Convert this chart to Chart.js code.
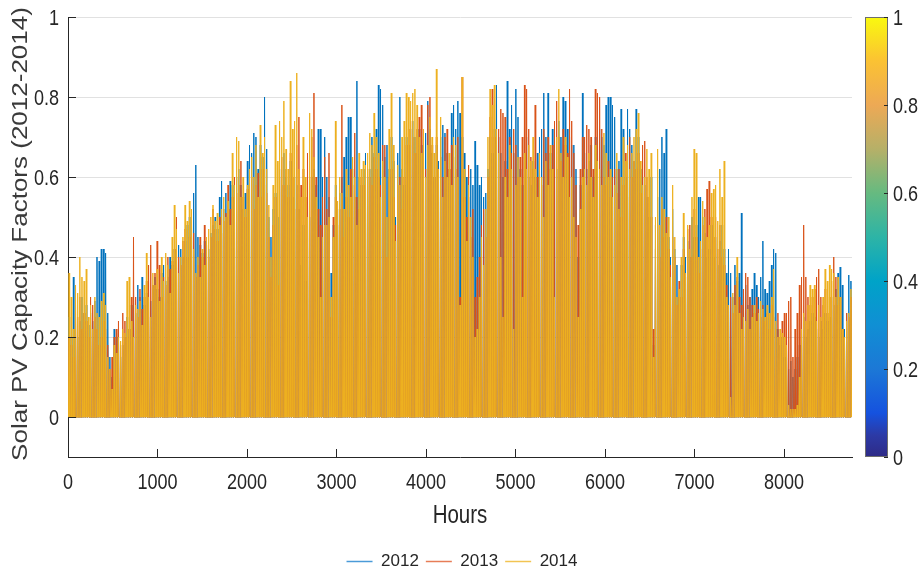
<!DOCTYPE html>
<html>
<head>
<meta charset="utf-8">
<script src="https://cdn.jsdelivr.net/npm/chart.js@4.4.1/dist/chart.umd.min.js"></script>
<style>
  html, body { margin: 0; padding: 0; background: #fff; }
  #wrap { width: 924px; height: 572px; }
</style>
</head>
<body>
<div id="wrap"><canvas id="pvChart" width="924" height="572"></canvas></div>
<script>
// daily peak capacity factor, one value per day of the year
const years = ['2012', '2013', '2014'];

const peak2012 = [
  0.25, 0.20, 0.35, 0.25, 0.20, 0.24, 0.30, 0.26, 0.28, 0.23,
  0.26, 0.24, 0.29, 0.40, 0.39, 0.42, 0.42, 0.41, 0.26, 0.15,
  0.10, 0.22, 0.20, 0.21, 0.15, 0.18, 0.20, 0.25, 0.22, 0.28,
  0.30, 0.26, 0.33, 0.30, 0.35, 0.28, 0.31, 0.25, 0.29, 0.33,
  0.35, 0.32, 0.30, 0.36, 0.38, 0.34, 0.35, 0.40, 0.38, 0.42,
  0.44, 0.43, 0.42, 0.40, 0.44, 0.48, 0.50, 0.51, 0.56, 0.63,
  0.45, 0.43, 0.41, 0.44, 0.40, 0.42, 0.46, 0.48, 0.50, 0.47,
  0.55, 0.59, 0.52, 0.56, 0.50, 0.59, 0.58, 0.55, 0.60, 0.62,
  0.58, 0.52, 0.56, 0.64, 0.68, 0.66, 0.71, 0.70, 0.62, 0.68,
  0.65, 0.80, 0.67, 0.50, 0.45, 0.52, 0.56, 0.50, 0.62, 0.58,
  0.66, 0.60, 0.58, 0.64, 0.55, 0.60, 0.58, 0.52, 0.38, 0.48,
  0.34, 0.55, 0.50, 0.60, 0.62, 0.58, 0.72, 0.72, 0.60, 0.70,
  0.60, 0.55, 0.36, 0.48, 0.58, 0.52, 0.56, 0.60, 0.65, 0.70,
  0.75, 0.75, 0.62, 0.55, 0.84, 0.60, 0.58, 0.62, 0.66, 0.60,
  0.62, 0.70, 0.66, 0.72, 0.83, 0.82, 0.78, 0.65, 0.68, 0.62,
  0.70, 0.64, 0.50, 0.66, 0.80, 0.62, 0.58, 0.70, 0.68, 0.72,
  0.74, 0.70, 0.66, 0.72, 0.68, 0.64, 0.71, 0.79, 0.72, 0.66,
  0.60, 0.68, 0.64, 0.70, 0.73, 0.71, 0.66, 0.62, 0.76, 0.78,
  0.72, 0.79, 0.76, 0.70, 0.66, 0.60, 0.55, 0.62, 0.58, 0.69,
  0.63, 0.58, 0.60, 0.55, 0.56, 0.62, 0.70, 0.66, 0.72, 0.83,
  0.70, 0.66, 0.60, 0.64, 0.84, 0.72, 0.78, 0.66, 0.82, 0.75,
  0.62, 0.58, 0.66, 0.70, 0.60, 0.58, 0.64, 0.60, 0.66, 0.70,
  0.72, 0.81, 0.70, 0.81, 0.66, 0.72, 0.68, 0.62, 0.74, 0.70,
  0.80, 0.79, 0.72, 0.70, 0.68, 0.68, 0.62, 0.40, 0.58, 0.81,
  0.66, 0.62, 0.64, 0.68, 0.60, 0.70, 0.66, 0.72, 0.70, 0.68,
  0.78, 0.80, 0.80, 0.78, 0.75, 0.62, 0.64, 0.77, 0.72, 0.60,
  0.77, 0.72, 0.68, 0.64, 0.77, 0.70, 0.62, 0.60, 0.58, 0.55,
  0.50, 0.60, 0.18, 0.48, 0.55, 0.62, 0.70, 0.66, 0.72, 0.45,
  0.40, 0.52, 0.42, 0.38, 0.30, 0.38, 0.45, 0.40, 0.44, 0.40,
  0.50, 0.45, 0.48, 0.55, 0.55, 0.50, 0.46, 0.40, 0.42, 0.48,
  0.40, 0.45, 0.38, 0.44, 0.48, 0.42, 0.36, 0.42, 0.36, 0.30,
  0.38, 0.34, 0.36, 0.51, 0.30, 0.33, 0.28, 0.30, 0.32, 0.36,
  0.33, 0.30, 0.35, 0.44, 0.32, 0.31, 0.34, 0.38, 0.42, 0.41,
  0.22, 0.18, 0.20, 0.15, 0.18, 0.12, 0.14, 0.10, 0.12, 0.15,
  0.18, 0.22, 0.25, 0.20, 0.22, 0.24, 0.26, 0.25, 0.22, 0.20,
  0.24, 0.22, 0.26, 0.24, 0.25, 0.30, 0.28, 0.32, 0.36, 0.375,
  0.33, 0.22, 0.26, 0.355, 0.34
];

const peak2013 = [
  0.20, 0.18, 0.15, 0.28, 0.25, 0.30, 0.22, 0.26, 0.24, 0.20,
  0.30, 0.28, 0.25, 0.22, 0.18, 0.20, 0.24, 0.22, 0.18, 0.12,
  0.15, 0.20, 0.22, 0.24, 0.18, 0.26, 0.24, 0.20, 0.22, 0.30,
  0.45, 0.30, 0.25, 0.32, 0.27, 0.30, 0.34, 0.38, 0.43, 0.33,
  0.36, 0.44, 0.38, 0.30, 0.35, 0.33, 0.40, 0.37, 0.39, 0.42,
  0.50, 0.40, 0.38, 0.44, 0.47, 0.40, 0.45, 0.50, 0.46, 0.35,
  0.38, 0.45, 0.40, 0.48, 0.43, 0.40, 0.45, 0.52, 0.47, 0.44,
  0.50, 0.46, 0.49, 0.51, 0.58, 0.52, 0.55, 0.60, 0.56, 0.58,
  0.64, 0.55, 0.50, 0.57, 0.48, 0.60, 0.52, 0.58, 0.61, 0.55,
  0.62, 0.58, 0.56, 0.45, 0.35, 0.48, 0.55, 0.33, 0.60, 0.65,
  0.58, 0.62, 0.55, 0.66, 0.60, 0.52, 0.68, 0.75, 0.58, 0.62,
  0.55, 0.66, 0.60, 0.70, 0.81, 0.60, 0.52, 0.48, 0.55, 0.65,
  0.52, 0.66, 0.25, 0.50, 0.55, 0.48, 0.52, 0.78, 0.45, 0.55,
  0.50, 0.62, 0.58, 0.71, 0.55, 0.52, 0.60, 0.58, 0.55, 0.62,
  0.60, 0.58, 0.65, 0.62, 0.60, 0.58, 0.68, 0.68, 0.40, 0.60,
  0.62, 0.55, 0.48, 0.58, 0.60, 0.52, 0.60, 0.68, 0.72, 0.74,
  0.70, 0.66, 0.72, 0.75, 0.78, 0.70, 0.62, 0.78, 0.80, 0.68,
  0.60, 0.70, 0.55, 0.65, 0.60, 0.70, 0.72, 0.62, 0.68, 0.65,
  0.62, 0.70, 0.30, 0.85, 0.55, 0.50, 0.63, 0.45, 0.52, 0.30,
  0.35, 0.40, 0.48, 0.52, 0.45, 0.60, 0.75, 0.82, 0.70, 0.68,
  0.72, 0.77, 0.76, 0.75, 0.62, 0.70, 0.66, 0.72, 0.68, 0.60,
  0.65, 0.70, 0.83, 0.82, 0.72, 0.65, 0.62, 0.78, 0.60, 0.64,
  0.58, 0.72, 0.66, 0.70, 0.62, 0.68, 0.74, 0.79, 0.70, 0.64,
  0.72, 0.68, 0.66, 0.82, 0.74, 0.66, 0.58, 0.48, 0.62, 0.70,
  0.70, 0.73, 0.72, 0.70, 0.62, 0.82, 0.81, 0.80, 0.72, 0.60,
  0.58, 0.64, 0.55, 0.60, 0.62, 0.56, 0.62, 0.50, 0.58, 0.66,
  0.55, 0.70, 0.60, 0.64, 0.62, 0.66, 0.56, 0.68, 0.69, 0.60,
  0.55, 0.50, 0.22, 0.42, 0.48, 0.40, 0.52, 0.45, 0.50, 0.42,
  0.38, 0.45, 0.40, 0.28, 0.34, 0.30, 0.42, 0.35, 0.47, 0.48,
  0.40, 0.52, 0.45, 0.36, 0.42, 0.48, 0.52, 0.57, 0.59, 0.50,
  0.45, 0.50, 0.42, 0.48, 0.40, 0.38, 0.33, 0.28, 0.30, 0.26,
  0.33, 0.35, 0.30, 0.28, 0.32, 0.36, 0.35, 0.30, 0.28, 0.26,
  0.30, 0.27, 0.25, 0.28, 0.24, 0.26, 0.22, 0.28, 0.25, 0.22,
  0.26, 0.20, 0.24, 0.26, 0.26, 0.29, 0.30, 0.15, 0.22, 0.26,
  0.33, 0.35, 0.48, 0.35, 0.30, 0.28, 0.30, 0.32, 0.35, 0.37,
  0.30, 0.28, 0.32, 0.26, 0.30, 0.34, 0.40, 0.35, 0.28, 0.30,
  0.22, 0.20, 0.26, 0.25, 0.30
];

const peak2014 = [
  0.36, 0.30, 0.22, 0.33, 0.31, 0.40, 0.35, 0.34, 0.37, 0.25,
  0.28, 0.22, 0.30, 0.26, 0.25, 0.29, 0.31, 0.28, 0.15, 0.12,
  0.07, 0.18, 0.16, 0.20, 0.19, 0.22, 0.21, 0.34, 0.35, 0.24,
  0.20, 0.28, 0.27, 0.29, 0.23, 0.33, 0.41, 0.30, 0.25, 0.36,
  0.33, 0.37, 0.29, 0.40, 0.34, 0.41, 0.38, 0.31, 0.45, 0.53,
  0.47, 0.36, 0.40, 0.45, 0.53, 0.49, 0.54, 0.52, 0.42, 0.36,
  0.40, 0.35, 0.42, 0.38, 0.45, 0.47, 0.50, 0.53, 0.49, 0.51,
  0.48, 0.52, 0.55, 0.50, 0.54, 0.48, 0.66, 0.58, 0.70, 0.69,
  0.55, 0.60, 0.52, 0.58, 0.62, 0.65, 0.60, 0.68, 0.55, 0.73,
  0.66, 0.70, 0.62, 0.53, 0.40, 0.58, 0.73, 0.64, 0.74, 0.70,
  0.79, 0.67, 0.62, 0.84, 0.72, 0.74, 0.86, 0.62, 0.55, 0.70,
  0.60, 0.50, 0.76, 0.72, 0.65, 0.55, 0.45, 0.30, 0.45, 0.48,
  0.48, 0.50, 0.30, 0.45, 0.74, 0.54, 0.60, 0.56, 0.52, 0.62,
  0.58, 0.55, 0.65, 0.60, 0.48, 0.66, 0.62, 0.64, 0.63, 0.66,
  0.71, 0.68, 0.76, 0.70, 0.66, 0.55, 0.64, 0.60, 0.50, 0.72,
  0.81, 0.68, 0.44, 0.63, 0.58, 0.70, 0.74, 0.81, 0.80, 0.79,
  0.81, 0.82, 0.78, 0.70, 0.66, 0.72, 0.60, 0.68, 0.75, 0.70,
  0.66, 0.87, 0.62, 0.75, 0.55, 0.64, 0.60, 0.66, 0.58, 0.70,
  0.68, 0.60, 0.28, 0.85, 0.62, 0.44, 0.58, 0.50, 0.40, 0.20,
  0.22, 0.30, 0.45, 0.38, 0.52, 0.70, 0.82, 0.78, 0.83, 0.72,
  0.66, 0.40, 0.25, 0.60, 0.55, 0.68, 0.62, 0.22, 0.58, 0.65,
  0.60, 0.30, 0.66, 0.62, 0.68, 0.64, 0.70, 0.62, 0.55, 0.66,
  0.60, 0.50, 0.64, 0.58, 0.68, 0.62, 0.30, 0.70, 0.82, 0.66,
  0.60, 0.70, 0.65, 0.55, 0.60, 0.50, 0.45, 0.25, 0.52, 0.60,
  0.62, 0.58, 0.66, 0.60, 0.55, 0.68, 0.64, 0.62, 0.58, 0.71,
  0.66, 0.60, 0.62, 0.55, 0.58, 0.66, 0.52, 0.60, 0.70, 0.64,
  0.68, 0.62, 0.66, 0.70, 0.72, 0.76, 0.64, 0.58, 0.60, 0.67,
  0.62, 0.66, 0.15, 0.50, 0.67, 0.48, 0.55, 0.52, 0.46, 0.50,
  0.35, 0.58, 0.45, 0.30, 0.32, 0.40, 0.51, 0.36, 0.48, 0.42,
  0.55, 0.67, 0.66, 0.40, 0.44, 0.54, 0.50, 0.45, 0.48, 0.56,
  0.57, 0.58, 0.49, 0.62, 0.55, 0.64, 0.30, 0.28, 0.05, 0.31,
  0.28, 0.40, 0.26, 0.22, 0.25, 0.24, 0.27, 0.22, 0.25, 0.28,
  0.24, 0.26, 0.29, 0.27, 0.25, 0.28, 0.26, 0.30, 0.37, 0.24,
  0.20, 0.22, 0.21, 0.20, 0.18, 0.03, 0.02, 0.02, 0.02, 0.03,
  0.10, 0.22, 0.26, 0.24, 0.28, 0.33, 0.32, 0.33, 0.24, 0.28,
  0.25, 0.30, 0.37, 0.34, 0.38, 0.37, 0.36, 0.30, 0.35, 0.30,
  0.22, 0.20, 0.24, 0.26, 0.32
];

const xTicks = [0, 1000, 2000, 3000, 4000, 5000, 6000, 7000, 8000];
const yTicks = [0, 0.2, 0.4, 0.6, 0.8, 1];
const cbTicks = [0, 0.2, 0.4, 0.6, 0.8, 1];

const lineColors = ['#0072BD', '#D95319', '#EDB120'];
const legendColors = ['#4A9BD8', '#E77D57', '#F2C452'];

// parula-like colour stops for the colour bar
const parula = [
  [0.00, '#2E2A86'], [0.05, '#2C3AA6'], [0.10, '#1552DF'], [0.20, '#1C78D6'],
  [0.30, '#108FD4'], [0.40, '#00A3C8'], [0.50, '#2DB4A6'], [0.60, '#66BA80'],
  [0.70, '#B6B068'], [0.80, '#EDA955'], [0.90, '#FBC233'], [1.00, '#F9F90F']
];

const FONT = "'Liberation Sans', Arial, sans-serif";
const AXIS_COLOR = '#262626';
const SQUEEZE = 0.82;   // the original figure's text is horizontally condensed

// each day becomes a spike: zero at night, peak at midday
function daySpikes(peaks) {
    let pts = [];
    peaks.forEach(function (p, d) {
        let h = d * 24;
        pts.push({ x: h + 6, y: 0 }, { x: h + 12, y: p }, { x: h + 18, y: 0 });
    });
    return pts;
}

function narrowText(ctx, text, x, y, align, size, color) {
    ctx.save();
    ctx.translate(x, y);
    ctx.scale(SQUEEZE, 1);
    ctx.font = size + 'px ' + FONT;
    ctx.fillStyle = color;
    ctx.textAlign = align;
    ctx.textBaseline = 'middle';
    ctx.fillText(text, 0, 0);
    ctx.restore();
}

// inward tick marks, tick labels, axis titles and the colour bar
const extrasPlugin = {
    id: 'extras',
    afterDraw(chart) {
        const { ctx, chartArea } = chart;
        const xs = chart.scales.x, ys = chart.scales.y, cb = chart.scales.cb;
        ctx.save();
        ctx.strokeStyle = AXIS_COLOR;
        ctx.lineWidth = 1;
        ctx.beginPath();
        yTicks.forEach(function (v) {
            let y = Math.round(ys.getPixelForValue(v)) + 0.5;
            ctx.moveTo(chartArea.left, y);
            ctx.lineTo(chartArea.left + 8, y);
        });
        xTicks.forEach(function (v) {
            let x = Math.round(xs.getPixelForValue(v)) + 0.5;
            ctx.moveTo(x, chartArea.bottom);
            ctx.lineTo(x, chartArea.bottom - 8);
        });
        ctx.stroke();

        yTicks.forEach(function (v) {
            narrowText(ctx, String(v), chartArea.left - 9, ys.getPixelForValue(v) + 2, 'right', 22, AXIS_COLOR);
        });
        xTicks.forEach(function (v) {
            narrowText(ctx, String(v), xs.getPixelForValue(v), chartArea.bottom + 26, 'center', 22, AXIS_COLOR);
        });
        narrowText(ctx, 'Hours', (chartArea.left + chartArea.right) / 2, chartArea.bottom + 59, 'center', 25, AXIS_COLOR);

        // y axis title, rotated
        ctx.save();
        ctx.translate(21, (chartArea.top + chartArea.bottom) / 2 - 3);
        ctx.rotate(-Math.PI / 2);
        ctx.scale(1, SQUEEZE);
        ctx.font = '26px ' + FONT;
        ctx.fillStyle = '#3a3a3a';
        ctx.textAlign = 'center';
        ctx.textBaseline = 'middle';
        ctx.fillText('Solar PV Capacity Factors (2012-2014)', 0, 0);
        ctx.restore();

        // colour bar
        let x0 = chartArea.right + 13, w = 23;
        let top = cb.getPixelForValue(1), bottom = cb.getPixelForValue(0);
        let g = ctx.createLinearGradient(0, bottom, 0, top);
        parula.forEach(function (s) { g.addColorStop(s[0], s[1]); });
        ctx.fillStyle = g;
        ctx.fillRect(x0, top, w, bottom - top);
        ctx.strokeStyle = '#6e6e6e';
        ctx.strokeRect(x0 + 0.5, top + 0.5, w - 1, bottom - top - 1);
        ctx.strokeStyle = AXIS_COLOR;
        ctx.beginPath();
        cbTicks.forEach(function (v) {
            let y = Math.round(cb.getPixelForValue(v)) + 0.5;
            ctx.moveTo(x0 + w - 4, y);
            ctx.lineTo(x0 + w, y);
        });
        ctx.stroke();
        cbTicks.forEach(function (v) {
            narrowText(ctx, String(v), x0 + w + 5, cb.getPixelForValue(v) + 2, 'left', 22, AXIS_COLOR);
        });
        ctx.restore();
    }
};

let ctx = document.getElementById('pvChart').getContext('2d');

let pvChart = new Chart(ctx, {
    type: 'line',
    data: {
        datasets: [
            {
                label: years[0],
                data: daySpikes(peak2012),
                borderColor: lineColors[0],
                backgroundColor: lineColors[0],
                borderWidth: 1,
                order: 3
            },
            {
                label: years[1],
                data: daySpikes(peak2013),
                borderColor: lineColors[1],
                backgroundColor: lineColors[1],
                borderWidth: 1,
                order: 2
            },
            {
                label: years[2],
                data: daySpikes(peak2014),
                borderColor: lineColors[2],
                backgroundColor: lineColors[2],
                borderWidth: 1,
                order: 1
            }
        ]
    },
    options: {
        responsive: false,
        animation: false,
        parsing: false,
        normalized: true,
        devicePixelRatio: 1,
        elements: {
            point: { radius: 0 },
            line: { tension: 0, fill: false }
        },
        layout: { padding: { top: 17, left: 0, right: 0, bottom: -8 } },
        plugins: {
            tooltip: { enabled: false },
            legend: {
                position: 'bottom',
                labels: {
                    usePointStyle: true,
                    pointStyle: 'line',
                    pointStyleWidth: 26,
                    padding: 7,
                    color: AXIS_COLOR,
                    font: { family: FONT, size: 17 },
                    generateLabels: function (chart) {
                        return chart.data.datasets.map(function (ds, i) {
                            return {
                                text: ds.label,
                                datasetIndex: i,
                                hidden: false,
                                pointStyle: 'line',
                                strokeStyle: legendColors[i],
                                fillStyle: legendColors[i],
                                lineWidth: 1.5,
                                fontColor: AXIS_COLOR
                            };
                        });
                    }
                }
            }
        },
        scales: {
            x: {
                type: 'linear',
                min: 0,
                max: 8760,
                afterBuildTicks: function (axis) {
                    axis.ticks = xTicks.map(function (v) { return { value: v }; });
                },
                afterFit: function (axis) { axis.height = 89; },
                grid: { display: false, drawTicks: false },
                border: { display: true, color: AXIS_COLOR, width: 1 },
                ticks: { display: false }
            },
            y: {
                type: 'linear',
                min: -0.1,
                max: 1,
                afterBuildTicks: function (axis) {
                    axis.ticks = yTicks.map(function (v) { return { value: v }; });
                },
                afterFit: function (axis) { axis.width = 68; },
                grid: { color: '#e1e1e1', lineWidth: 1, drawTicks: false },
                border: { display: true, color: AXIS_COLOR, width: 1 },
                ticks: { display: false }
            },
            cb: {
                type: 'linear',
                position: 'right',
                min: 0,
                max: 1,
                afterBuildTicks: function (axis) {
                    axis.ticks = cbTicks.map(function (v) { return { value: v }; });
                },
                afterFit: function (axis) { axis.width = 72; },
                grid: { display: false, drawTicks: false },
                border: { display: false },
                ticks: { display: false }
            }
        }
    },
    plugins: [extrasPlugin]
});
</script>
</body>
</html>
